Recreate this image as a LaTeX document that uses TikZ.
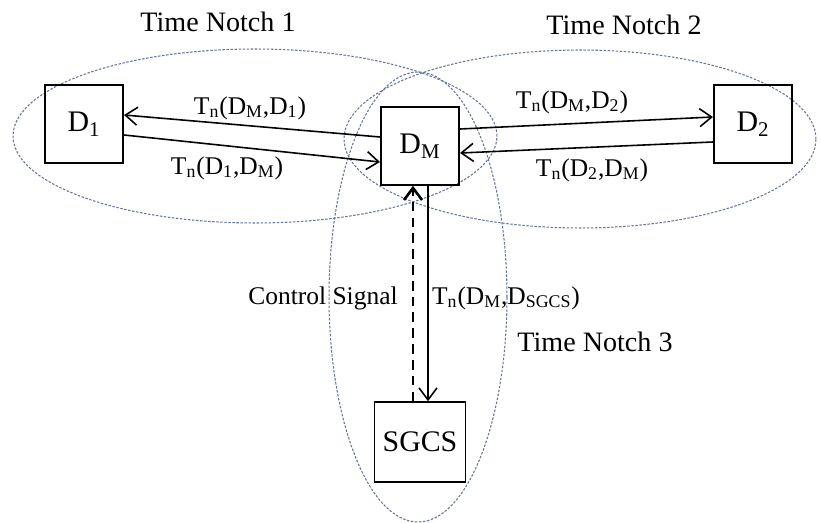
\documentclass[tikz,border=0pt]{standalone}
\usepackage{fontspec}
\setmainfont{Liberation Serif}
\usetikzlibrary{arrows.meta,calc}
\definecolor{notchline}{RGB}{100,118,150}

\begin{document}
\begin{tikzpicture}[x=0.02cm, y=-0.02cm,
    dev/.style={draw=black, line width=0.9pt, minimum width=1.57cm,
                minimum height=1.56cm, inner sep=0pt,
                font=\fontsize{17}{20}\selectfont},
    link/.style={draw=black, line width=0.9pt,
                 -{Straight Barb[length=2.4mm, width=3.6mm]}},
    ctrl/.style={link, line width=1.5pt, dash pattern=on 5.5pt off 3.5pt},
    notch/.style={draw=notchline, line width=0.6pt, dash pattern=on 1.4pt off 0.9pt},
    lab/.style={font=\fontsize{14.5}{17}\selectfont, inner sep=0pt},
    tag/.style={font=\fontsize{16}{19}\selectfont, inner sep=0pt}]
  \useasboundingbox (0,0) rectangle (821,523);
  % time notches
  \draw[notch] (255,136) ellipse [x radius=4.84cm, y radius=1.74cm];
  \draw[notch] (580,139) ellipse [x radius=4.72cm, y radius=1.78cm];
  \draw[notch] (418,297) ellipse [x radius=1.78cm, y radius=4.50cm];
  % devices
  \node[dev] (d1) at (84,124) {D\textsubscript{1}};
  \node[dev] (dm) at (420,146) {D\textsubscript{M}};
  \node[dev] (d2) at (753,124) {D\textsubscript{2}};
  \node[dev, minimum width=1.82cm, minimum height=1.6cm] (sgcs) at (420,442) {SGCS};
  % links
  \draw[link] ($(dm.west)+(0,-9)$) -- ($(d1.east)+(0,-9)$);
  \draw[link] ($(d1.east)+(0,11)$) -- ($(dm.west)+(0,16)$);
  \draw[link] ($(dm.east)+(0,-17)$) -- ($(d2.west)+(0,-7)$);
  \draw[link] ($(d2.west)+(0,18)$) -- ($(dm.east)+(0,7)$);
  \draw[link] ($(dm.south)+(8,0)$) -- ($(sgcs.north)+(8,0)$);
  \draw[ctrl] ($(sgcs.north)+(-7,0)$) -- ($(dm.south)+(-7,0)$);
  % labels
  \node[lab] (l1) at (250,108) {T\textsubscript{n}(D\textsubscript{M},D\textsubscript{1})};
  \node[lab] (l2) at (227,168) {T\textsubscript{n}(D\textsubscript{1},D\textsubscript{M})};
  \node[lab] (l3) at (572,102) {T\textsubscript{n}(D\textsubscript{M},D\textsubscript{2})};
  \node[lab] (l4) at (592,170) {T\textsubscript{n}(D\textsubscript{2},D\textsubscript{M})};
  \node[lab] (l5) at (323,298) {Control Signal};
  \node[lab] (l6) at (506,298) {T\textsubscript{n}(D\textsubscript{M},D\textsubscript{SGCS})};
  \node[tag] (t1) at (218,22) {Time Notch 1};
  \node[tag] (t2) at (624,25) {Time Notch 2};
  \node[tag] (t3) at (595,342) {Time Notch 3};
\end{tikzpicture}
\end{document}
